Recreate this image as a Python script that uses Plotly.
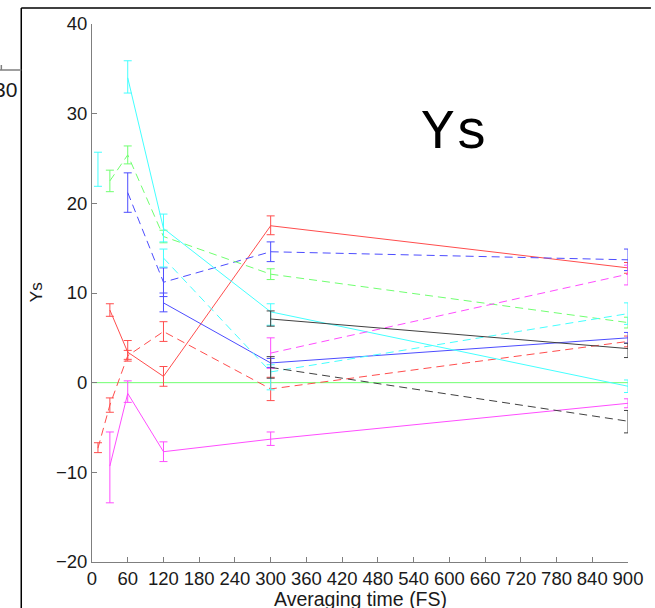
import plotly.graph_objects as go

# ---- data ----
x_times = [10, 30, 60, 120, 300, 900]

red_solid_y = [None, 8.1, 3.4, 0.7, 17.5, 12.8]
red_solid_ep = [0, 0.7, 1.3, 1.1, 1.1, 0.6]
red_solid_em = [0, 0.7, 0.8, 1.1, 1.0, 0.6]

red_dash_y = [-7.3, -2.5, 3.0, 5.7, -0.7, 4.6]
red_dash_ep = [0.6, 0.8, 0.6, 1.1, 1.3, 0.6]
red_dash_em = [0.5, 0.8, 0.6, 1.1, 1.3, 0.6]

blue_solid_y = [None, None, None, 8.9, 2.2, 5.0]
blue_solid_ep = [0, 0, 0, 1.1, 0.5, 0.6]
blue_solid_em = [0, 0, 0, 1.0, 0.5, 0.6]

blue_dash_y = [None, None, 21.2, 11.2, 14.6, 13.7]
blue_dash_ep = [0, 0, 2.2, 1.6, 1.1, 1.2]
blue_dash_em = [0, 0, 2.2, 1.6, 1.1, 1.2]

green_dash_y = [None, 22.5, 25.4, 16.3, 12.1, 6.7]
green_dash_ep = [0, 1.2, 1.0, 0.7, 0.6, 0.6]
green_dash_em = [0, 1.2, 1.0, 0.7, 0.6, 0.6]

cyan_solid_y = [None, None, 34.0, 17.2, 7.9, -0.4]
cyan_solid_ep = [0, 0, 1.9, 1.6, 0.9, 0.7]
cyan_solid_em = [0, 0, 1.7, 1.5, 1.5, 0.7]

cyan_dash_y = [23.9, None, None, 13.9, 1.2, 7.7]
cyan_dash_ep = [1.8, 0, 0, 1.0, 0.8, 1.2]
cyan_dash_em = [2.0, 0, 0, 1.0, 2.0, 1.2]

mag_solid_y = [None, -9.3, -1.2, -7.7, -6.3, -2.3]
mag_solid_ep = [0, 3.8, 1.4, 1.1, 0.8, 0.5]
mag_solid_em = [0, 4.1, 1.0, 1.1, 0.7, 0.5]

mag_dash_y = [None, None, None, None, 3.3, 12.1]
mag_dash_ep = [0, 0, 0, 0, 1.7, 1.0]
mag_dash_em = [0, 0, 0, 0, 1.7, 1.2]

blk_solid_y = [None, None, None, None, 7.1, 3.8]
blk_solid_ep = [0, 0, 0, 0, 0.9, 0.6]
blk_solid_em = [0, 0, 0, 0, 0.8, 1.0]

blk_dash_y = [None, None, None, None, 1.7, -4.3]
blk_dash_ep = [0, 0, 0, 0, 1.2, 1.2]
blk_dash_em = [0, 0, 0, 0, 1.2, 1.3]

zero_x = [0, 900]
zero_y = [0, 0]

x_ticks = list(range(0, 901, 60))
y_ticks = [-20, -10, 0, 10, 20, 30, 40]

RED, BLUE, GREEN, CYAN, MAG, BLK = "#ff4d4d", "#4d4dff", "#70ff70", "#44ffff", "#ff4dff", "#404040"
DASH = "8px,5px"

fig = go.Figure()

fig.add_trace(go.Scatter(x=zero_x, y=zero_y, mode="lines",
                         line=dict(color=GREEN, width=1)))

series = [
    (red_solid_y, red_solid_ep, red_solid_em, RED, "solid"),
    (red_dash_y, red_dash_ep, red_dash_em, RED, DASH),
    (blue_solid_y, blue_solid_ep, blue_solid_em, BLUE, "solid"),
    (blue_dash_y, blue_dash_ep, blue_dash_em, BLUE, DASH),
    (green_dash_y, green_dash_ep, green_dash_em, GREEN, DASH),
    (cyan_solid_y, cyan_solid_ep, cyan_solid_em, CYAN, "solid"),
    (cyan_dash_y, cyan_dash_ep, cyan_dash_em, CYAN, DASH),
    (mag_solid_y, mag_solid_ep, mag_solid_em, MAG, "solid"),
    (mag_dash_y, mag_dash_ep, mag_dash_em, MAG, DASH),
    (blk_solid_y, blk_solid_ep, blk_solid_em, BLK, "solid"),
    (blk_dash_y, blk_dash_ep, blk_dash_em, BLK, DASH),
]
for y, ep, em, col, dash in series:
    fig.add_trace(go.Scatter(
        x=x_times, y=y, mode="lines",
        line=dict(color=col, width=1, dash=dash),
        error_y=dict(type="data", array=ep, arrayminus=em, symmetric=False,
                     color=col, thickness=1, width=4),
    ))

W, H = 655, 608
L, R, T, B = 92, 25, 24, 46
pw, ph = W - L - R, H - T - B


def px(xp):
    return (xp - L) / pw


def py(yp):
    return (H - B - yp) / ph


FONT = "Liberation Sans, Arial, Helvetica, sans-serif"
MONO = "Liberation Mono, Courier New, monospace"
AX = "#7f7f7f"

fig.update_layout(
    width=W, height=H,
    margin=dict(l=L, r=R, t=T, b=B),
    plot_bgcolor="white", paper_bgcolor="white",
    showlegend=False,
    font=dict(family=FONT, size=18, color="#1a1a1a"),
    xaxis=dict(range=[0, 900], tickvals=x_ticks, ticks="inside", ticklen=5,
               tickcolor=AX, showline=True, linecolor=AX, linewidth=1,
               showgrid=False, zeroline=False, mirror=False,
               tickfont=dict(size=18.5)),
    yaxis=dict(range=[-20, 40], tickvals=y_ticks, ticks="inside", ticklen=5,
               tickcolor=AX, showline=True, linecolor=AX, linewidth=1,
               showgrid=False, zeroline=False, mirror=False,
               tickfont=dict(size=18.5)),
    shapes=[
        dict(type="line", xref="paper", yref="paper", x0=px(21), x1=px(21),
             y0=py(8), y1=py(610), line=dict(color="black", width=1.5)),
        dict(type="line", xref="paper", yref="paper", x0=px(21), x1=px(653),
             y0=py(8), y1=py(8), line=dict(color="black", width=1.5)),
        dict(type="line", xref="paper", yref="paper", x0=px(-2), x1=px(21),
             y0=py(70), y1=py(70), line=dict(color=AX, width=1.5)),
        dict(type="line", xref="paper", yref="paper", x0=px(1), x1=px(1),
             y0=py(70), y1=py(65), line=dict(color=AX, width=1.5)),
    ],
    annotations=[
        dict(text="Ys", xref="paper", yref="paper", x=px(456), y=py(133),
             xanchor="center", yanchor="middle", showarrow=False,
             font=dict(family=MONO, size=56, color="black")),
        dict(text="Ys", xref="paper", yref="paper", x=px(36), y=py(292),
             xanchor="center", yanchor="middle", showarrow=False, textangle=-90,
             font=dict(size=17, color="#1a1a1a")),
        dict(text="Averaging time (FS)", xref="paper", yref="paper", x=px(361), y=py(599),
             xanchor="center", yanchor="middle", showarrow=False,
             font=dict(size=19.5, color="#1a1a1a")),
        dict(text="30", xref="paper", yref="paper", x=px(19), y=py(90),
             xanchor="right", yanchor="middle", showarrow=False,
             font=dict(size=21, color="#1a1a1a")),
    ],
)

fig.write_html("out.html")
